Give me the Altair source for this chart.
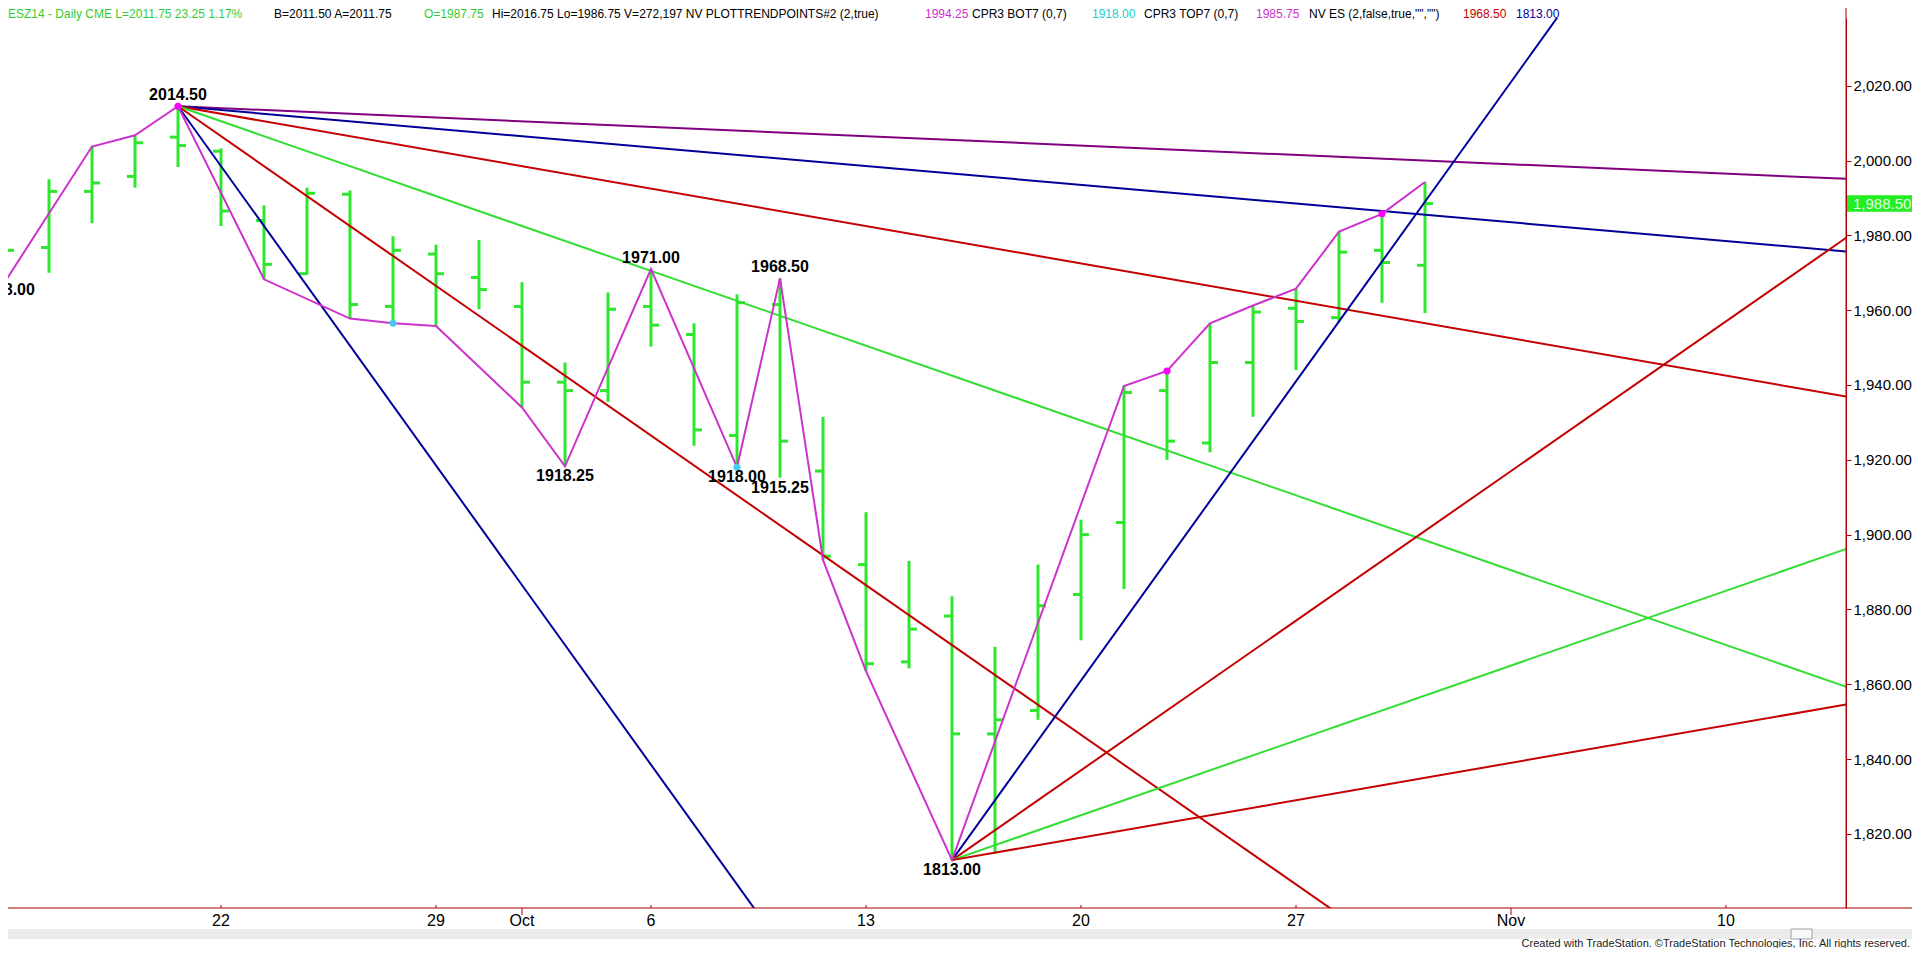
import altair as alt
import pandas as pd

# ---------------- data ----------------
# trading-day index: 0 = Mon 22 Sep 2014
day_index = list(range(-5, 29))
day_names = ["Sep 15", "Sep 16", "Sep 17", "Sep 18", "Sep 19",
             "Sep 22", "Sep 23", "Sep 24", "Sep 25", "Sep 26",
             "Sep 29", "Sep 30", "Oct 1", "Oct 2", "Oct 3",
             "Oct 6", "Oct 7", "Oct 8", "Oct 9", "Oct 10",
             "Oct 13", "Oct 14", "Oct 15", "Oct 16", "Oct 17",
             "Oct 20", "Oct 21", "Oct 22", "Oct 23", "Oct 24",
             "Oct 27", "Oct 28", "Oct 29", "Oct 30"]
opens = [1974.0, 1976.75, 1991.75, 1995.75, 2006.25, 2002.5, 1984.0, 1969.75, 1991.0, 1961.0,
         1975.0, 1968.75, 1961.0, 1940.75, 1938.5, 1961.0, 1953.5, 1926.5, 1961.5, 1917.0,
         1892.0, 1866.0, 1878.25, 1846.75, 1853.0, 1884.0, 1903.25, 1938.5, 1924.5, 1946.0,
         1960.5, 1958.0, 1976.0, 1972.0]
highs = [1979.5, 1995.0, 2003.75, 2006.75, 2014.5, 2003.25, 1988.0, 1992.75, 1992.0, 1979.75,
         1977.5, 1978.75, 1967.5, 1946.0, 1964.75, 1971.0, 1956.5, 1964.25, 1968.5, 1931.5,
         1906.0, 1893.0, 1883.5, 1870.0, 1892.0, 1904.0, 1939.75, 1943.75, 1956.5, 1961.25,
         1965.75, 1981.0, 1985.75, 1994.25]
lows = [1968.0, 1970.0, 1983.25, 1992.75, 1998.25, 1982.5, 1968.25, 1969.5, 1957.75, 1956.5,
        1955.75, 1960.25, 1934.0, 1918.25, 1935.5, 1950.25, 1923.75, 1918.0, 1915.25, 1893.25,
        1863.5, 1864.25, 1813.0, 1814.75, 1850.5, 1871.75, 1885.5, 1920.0, 1922.0, 1931.5,
        1944.0, 1956.75, 1962.0, 1959.25]
closes = [1976.0, 1991.75, 1994.0, 2004.75, 2004.0, 1986.5, 1972.25, 1991.25, 1961.5, 1976.0,
          1969.75, 1965.5, 1940.75, 1938.5, 1960.25, 1956.0, 1928.0, 1962.0, 1925.0, 1894.25,
          1865.5, 1874.75, 1846.75, 1850.5, 1881.0, 1900.0, 1938.0, 1925.0, 1946.0, 1959.5,
          1957.0, 1975.5, 1972.75, 1988.5]

# PLOTTRENDPOINTS zig-zag
trend_idx = [-5, -3, -2, -1, 1, 3, 4, 5, 7, 8, 10, 12, 13, 14, 15, 17, 21, 22, 23, 24, 25, 26, 27, 28]
trend_val = [1968.0, 2003.75, 2006.75, 2014.5, 1968.25, 1957.75, 1956.5, 1955.75, 1934.0, 1918.25,
             1971.0, 1918.0, 1968.5, 1893.25, 1863.5, 1813.0, 1939.75, 1943.75, 1956.5, 1961.25,
             1965.75, 1981.0, 1985.75, 1994.25]

top_dot_idx = [-1, 22, 27]
top_dot_val = [2014.5, 1943.75, 1985.75]
bot_dot_idx = [4, 12]
bot_dot_val = [1956.5, 1918.0]

pivot_idx = [-5, -1, 8, 10, 12, 13, 13, 17]
pivot_val = [1968.0, 2014.5, 1918.25, 1971.0, 1918.0, 1968.5, 1915.25, 1813.0]
pivot_txt = ["1968.00", "2014.50", "1918.25", "1971.00", "1918.00", "1968.50", "1915.25", "1813.00"]
pivot_side = ["below", "above", "below", "above", "below", "above", "below", "below"]

# Gann-style fans: origin pivot and slope (points per bar)
fan_origin_idx = [-1, -1, -1, -1, -1, -1, 17, 17, 17, 17]
fan_origin_val = [2014.5, 2014.5, 2014.5, 2014.5, 2014.5, 2014.5, 1813.0, 1813.0, 1813.0, 1813.0]
fan_slope = [-0.5, -1, -2, -4, -8, -16, 16, 8, 4, 2]
fan_kind = ["purple", "blue", "red", "green", "red", "blue", "blue", "red", "green", "red"]

x_tick_idx = [0, 5, 7, 10, 15, 20, 25, 30, 35]
x_tick_txt = ["22", "29", "Oct", "6", "13", "20", "27", "Nov", "10"]
x_tick_month = [False, False, True, False, False, False, False, True, False]

y_ticks = [1820, 1840, 1860, 1880, 1900, 1920, 1940, 1960, 1980, 2000, 2020]
last_price = 1988.50

header_txt = ["ESZ14 - Daily  CME  L=2011.75  23.25  1.17%", "B=2011.50  A=2011.75", "O=1987.75",
              "Hi=2016.75  Lo=1986.75  V=272,197  NV  PLOTTRENDPOINTS#2 (2,true)", "1994.25",
              "CPR3 BOT7 (0,7)", "1918.00", "CPR3 TOP7 (0,7)", "1985.75",
              'NV ES (2,false,true,"","")', "1968.50", "1813.00"]
header_kind = ["green", "black", "green", "black", "magenta", "black", "cyan", "black",
               "magenta", "black", "red", "blue"]

# ---------------- layout / style ----------------
W, H = 1838, 890
X_MIN, X_MAX = -4.9535, 37.7907
Y_MIN, Y_MAX = 1800.2, 2038.1
header_x = [0, 266, 416, 484, 917, 964, 1084, 1136, 1248, 1301, 1455, 1508]

BAR_GREEN = "#2fe62f"
PALETTE = {"purple": "#800080", "blue": "#000099", "red": "#c40000", "green": "#33dd33",
           "black": "#000000", "magenta": "#cc33cc", "cyan": "#22cccc"}
HEADER_GREEN = "#33cc33"
AXIS_RED = "#b00000"
MAGENTA = "#cc33cc"
ARIAL = "Liberation Sans, Arial, sans-serif"

xs = alt.Scale(domain=[X_MIN, X_MAX], nice=False, zero=False)
ys = alt.Scale(domain=[Y_MIN, Y_MAX], nice=False, zero=False)
yaxis = alt.Axis(orient="right", values=y_ticks, format=",.2f", title=None, grid=False,
                 tickSize=5, tickColor=AXIS_RED, domainColor=AXIS_RED, domainWidth=1,
                 labelColor="black", labelFont=ARIAL, labelFontSize=15, labelPadding=2,
                 labelOverlap=False, labelBound=False)


def X(f):
    return alt.X(f"{f}:Q", scale=xs, axis=None)


def Y(f):
    return alt.Y(f"{f}:Q", scale=ys, axis=yaxis)


ohlc = pd.DataFrame({"i": day_index, "day": day_names, "open": opens, "high": highs,
                     "low": lows, "close": closes})
trend = pd.DataFrame({"i": trend_idx, "v": trend_val})
top_dots = pd.DataFrame({"i": top_dot_idx, "v": top_dot_val})
bot_dots = pd.DataFrame({"i": bot_dot_idx, "v": bot_dot_val})
pivots = pd.DataFrame({"i": pivot_idx, "v": pivot_val, "t": pivot_txt, "side": pivot_side})

fan_rows = []
x_far = X_MAX + 1
for k, (i0, v0, s, kind) in enumerate(zip(fan_origin_idx, fan_origin_val, fan_slope, fan_kind)):
    fan_rows.append({"line": k, "i": i0, "v": v0, "col": PALETTE[kind]})
    fan_rows.append({"line": k, "i": x_far, "v": v0 + s * (x_far - i0), "col": PALETTE[kind]})
fans = pd.DataFrame(fan_rows)

xt = pd.DataFrame({"i": x_tick_idx, "t": x_tick_txt, "month": x_tick_month})
head_cols = [HEADER_GREEN if k == "green" else PALETTE[k] for k in header_kind]
head = pd.DataFrame({"t": header_txt, "col": head_cols, "px": header_x})
one = pd.DataFrame({"p": [last_price]})

# ---------------- layers ----------------
bars = alt.Chart(ohlc).mark_rule(color=BAR_GREEN, strokeWidth=3).encode(
    x=X("i"), y=Y("low"), y2=alt.Y2("high"))
open_t = alt.Chart(ohlc).mark_tick(orient="horizontal", size=8, thickness=3, xOffset=-4,
                                   color=BAR_GREEN, opacity=1).encode(x=X("i"), y=Y("open"))
close_t = alt.Chart(ohlc).mark_tick(orient="horizontal", size=8, thickness=3, xOffset=4,
                                    color=BAR_GREEN, opacity=1).encode(x=X("i"), y=Y("close"))

fan_lines = alt.Chart(fans).mark_line(strokeWidth=2, clip=True).encode(
    x=X("i"), y=Y("v"), detail="line:N", color=alt.Color("col:N", scale=None))

trend_line = alt.Chart(trend).mark_line(color=MAGENTA, strokeWidth=2).encode(x=X("i"), y=Y("v"))
tdots = alt.Chart(top_dots).mark_circle(size=50, color="#ff00ff", opacity=1).encode(x=X("i"), y=Y("v"))
bdots = alt.Chart(bot_dots).mark_circle(size=50, color="#44ccee", opacity=1).encode(x=X("i"), y=Y("v"))

lab_above = alt.Chart(pivots).transform_filter("datum.side == 'above'").mark_text(
    font=ARIAL, fontWeight="bold", fontSize=16, color="black", baseline="alphabetic", dy=-6
).encode(x=X("i"), y=Y("v"), text="t:N")
lab_below = alt.Chart(pivots).transform_filter("datum.side == 'below'").mark_text(
    font=ARIAL, fontWeight="bold", fontSize=16, color="black", baseline="alphabetic", dy=15
).encode(x=X("i"), y=Y("v"), text="t:N")

bottom_line = alt.Chart(one).mark_rule(color=AXIS_RED, strokeWidth=1).encode(
    x=alt.value(0), x2=alt.value(1904), y=alt.value(H))
right_line = alt.Chart(one).mark_rule(color=AXIS_RED, strokeWidth=1).encode(
    x=alt.value(W), y=alt.value(-10), y2=alt.value(H))
week_ticks = alt.Chart(xt).transform_filter("!datum.month").mark_rule(color=AXIS_RED).encode(
    x=X("i"), y=alt.value(H - 3), y2=alt.value(H))
month_ticks = alt.Chart(xt).transform_filter("datum.month").mark_rule(color=AXIS_RED).encode(
    x=X("i"), y=alt.value(H), y2=alt.value(H + 7))
x_labels = alt.Chart(xt).mark_text(font=ARIAL, fontSize=16, color="black", baseline="middle",
                                   align="center").encode(x=X("i"), y=alt.value(H + 13), text="t:N")

header = alt.Chart(head).mark_text(font=ARIAL, fontSize=12, align="left", baseline="alphabetic").encode(
    x=alt.X("px:Q", scale=None), y=alt.value(0), text="t:N", color=alt.Color("col:N", scale=None))

price_box = alt.Chart(one).transform_calculate(hi="datum.p + 2.2", lo="datum.p - 2.2").mark_rect(
    color="#22ee22").encode(x=alt.value(W + 1), x2=alt.value(W + 66), y=Y("hi"), y2=alt.Y2("lo"))
price_txt = alt.Chart(one).mark_text(font=ARIAL, fontSize=15, color="#e6ffe6", align="left",
                                     baseline="middle").encode(
    x=alt.value(W + 7), y=Y("p"), text=alt.Text("p:Q", format=",.2f"))

scroll_bg = alt.Chart(one).mark_rect(color="#ececec").encode(
    x=alt.value(0), x2=alt.value(1904), y=alt.value(H + 21), y2=alt.value(H + 31))
scroll_thumb = alt.Chart(one).mark_rect(color="#f8f8f8", stroke="#a0a0a0", strokeWidth=1).encode(
    x=alt.value(1783), x2=alt.value(1804), y=alt.value(H + 21), y2=alt.value(H + 31))
credit = alt.Chart(one).mark_text(
    text="Created with TradeStation. ©TradeStation Technologies, Inc. All rights reserved.",
    font=ARIAL, fontSize=11, color="#222222", align="right", baseline="alphabetic").encode(
    x=alt.value(1902), y=alt.value(H + 39))

chart = alt.layer(
    bars, open_t, close_t, fan_lines, trend_line, tdots, bdots, lab_above, lab_below,
    bottom_line, right_line, week_ticks, month_ticks, x_labels, header,
    price_box, price_txt, scroll_bg, scroll_thumb, credit
).properties(
    width=W, height=H,
    padding={"left": 0, "top": 10, "right": 66, "bottom": 40},
    autosize=alt.AutoSizeParams(type="none"),
    background="white",
).configure_view(stroke=None)

chart.save("out.html", embed_options={"renderer": "svg", "actions": False})
